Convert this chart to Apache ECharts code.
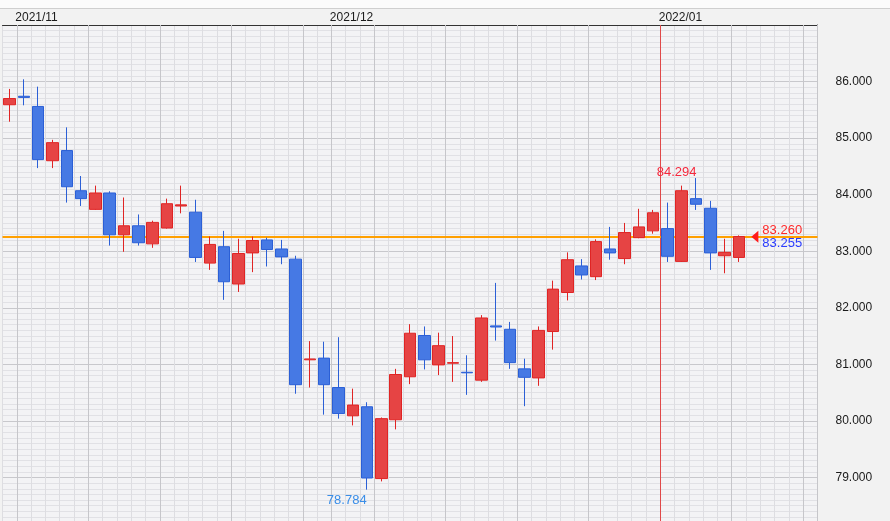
<!DOCTYPE html>
<html>
<head>
<meta charset="utf-8">
<script src="https://cdn.jsdelivr.net/npm/echarts@6/dist/echarts.min.js"></script>
<style>
  html, body { margin: 0; padding: 0; background: #f2f2f2; }
  #chart { width: 890px; height: 521px; }
</style>
</head>
<body>
<div id="chart"></div>
<script>
// trading days, then a few empty future slots on the right
const dates = [
  '2021/10/29',
  '2021/11/01', '2021/11/02', '2021/11/03', '2021/11/04', '2021/11/05',
  '2021/11/08', '2021/11/09', '2021/11/10', '2021/11/11', '2021/11/12',
  '2021/11/15', '2021/11/16', '2021/11/17', '2021/11/18', '2021/11/19',
  '2021/11/22', '2021/11/23', '2021/11/24', '2021/11/25', '2021/11/26',
  '2021/11/29', '2021/11/30', '2021/12/01', '2021/12/02', '2021/12/03',
  '2021/12/06', '2021/12/07', '2021/12/08', '2021/12/09', '2021/12/10',
  '2021/12/13', '2021/12/14', '2021/12/15', '2021/12/16', '2021/12/17',
  '2021/12/20', '2021/12/21', '2021/12/22', '2021/12/23', '2021/12/24',
  '2021/12/27', '2021/12/28', '2021/12/29', '2021/12/30', '2021/12/31',
  '2022/01/03', '2022/01/04', '2022/01/05', '2022/01/06', '2022/01/07',
  '2022/01/10',
  '2022/01/11', '2022/01/12', '2022/01/13', '2022/01/14', '2022/01/17'
]

const opens = [
  85.59,
  85.74, 85.56, 84.60, 84.78, 84.07,
  83.74, 84.03, 83.29, 83.45, 83.13,
  83.41, 83.80, 83.69, 82.79, 83.08,
  82.42, 82.97, 83.20, 83.04, 82.86,
  81.08, 81.11, 80.59, 80.09, 80.25,
  78.98, 80.02, 80.78, 81.51, 80.99,
  81.02, 80.86, 80.72, 81.68, 81.62,
  80.92, 80.76, 81.58, 82.27, 82.74,
  82.55, 83.04, 82.87, 83.24, 83.36,
  83.40, 82.82, 83.93, 83.76, 82.92,
  82.89
]
const closes = [
  85.70,
  85.72, 84.62, 84.92, 84.14, 83.93,
  84.03, 83.29, 83.45, 83.15, 83.51,
  83.84, 83.82, 82.89, 83.12, 82.46,
  82.96, 83.19, 83.03, 82.90, 80.64,
  81.095, 80.64, 80.13, 80.28, 78.99,
  80.04, 80.82, 81.55, 81.08, 81.33,
  81.03, 80.85, 81.82, 81.66, 81.03,
  80.77, 81.60, 82.33, 82.85, 82.58,
  83.17, 82.97, 83.33, 83.43, 83.68,
  82.91, 84.07, 83.83, 82.97, 82.98,
  83.26
]
const lows = [
  85.29,
  85.58, 84.47, 84.47, 83.86, 83.80,
  83.73, 83.10, 82.99, 83.10, 83.06,
  83.40, 83.67, 82.81, 82.67, 82.14,
  82.28, 82.63, 82.73, 82.77, 80.48,
  80.59, 80.11, 80.04, 79.92, 78.784,
  78.93, 79.85, 80.65, 80.91, 80.81,
  80.69, 80.46, 80.69, 81.42, 80.92,
  80.26, 80.62, 81.26, 82.13, 82.50,
  82.49, 82.85, 82.77, 83.23, 83.31,
  82.81, 82.81, 83.73, 82.67, 82.61,
  82.81
]
const highs = [
  85.87,
  86.04, 85.91, 84.97, 85.19, 84.33,
  84.16, 84.06, 83.95, 83.65, 83.54,
  83.93, 84.16, 83.91, 83.26, 83.36,
  83.22, 83.26, 83.24, 83.20, 82.92,
  81.41, 81.40, 81.48, 80.57, 80.33,
  80.06, 80.92, 81.71, 81.67, 81.56,
  81.50, 81.16, 81.87, 82.44, 81.75,
  81.10, 81.67, 82.48, 82.98, 82.86,
  83.21, 83.43, 83.50, 83.75, 83.73,
  83.86, 84.16, 84.294, 83.89, 83.22,
  83.28
]

// current quotes shown at the right end (ask / bid)
const quoteAsk = 83.260
const quoteBid = 83.255

const yTicks = [78, 79, 80, 81, 82, 83, 84, 85, 86, 87]

const FONT = "'Liberation Sans', Arial, sans-serif"

const ohlc = opens.map((o, i) => [o, closes[i], lows[i], highs[i]])

// lowest low, then the highest high reached after it
const loIdx = lows.indexOf(Math.min(...lows))
const hiIdx = loIdx + highs.slice(loIdx).indexOf(Math.max(...highs.slice(loIdx)))
const lastIdx = closes.length - 1

const monthStarts = dates
  .map((d, i) => i)
  .filter(i => i > 0 && dates[i].slice(0, 7) !== dates[i - 1].slice(0, 7))

const isMajor = i => {
  const day = new Date(dates[i].replace(/\//g, '-') + 'T00:00:00Z').getUTCDay()
  return day === 1 || monthStarts.includes(i)
}

const chart = echarts.init(document.getElementById('chart'))

const option = {
  animation: false,
  backgroundColor: '#f2f2f2',
  grid: {
    left: 2.5,
    top: 25,
    width: 815,
    height: 509,
    outerBoundsMode: 'none',
    containLabel: false,
    show: true,
    backgroundColor: '#f3f3f5',
    borderWidth: 0
  },
  xAxis: [
    {
      type: 'category',
      data: dates,
      position: 'top',
      boundaryGap: true,
      axisLine: { show: true, lineStyle: { color: '#333', width: 1 } },
      axisTick: { show: false },
      axisLabel: { show: false },
      splitLine: { show: true, interval: 0, lineStyle: { color: '#dddde1', width: 1 } }
    },
    {
      type: 'category',
      data: dates,
      position: 'top',
      boundaryGap: true,
      z: 1,
      axisLine: { show: false },
      axisTick: { show: false },
      axisLabel: { show: false },
      splitLine: { show: true, interval: (i) => isMajor(i), lineStyle: { color: '#c6c6ca', width: 1 } }
    }
  ],
  yAxis: {
    type: 'value',
    position: 'right',
    min: yTicks[0],
    max: yTicks[yTicks.length - 1],
    interval: 1,
    axisLine: { show: true, onZero: false, lineStyle: { color: '#333', width: 1 } },
    axisTick: { show: false },
    axisLabel: {
      margin: 18,
      color: '#1a1a1a',
      fontSize: 12,
      fontFamily: FONT,
      showMaxLabel: false,
      formatter: v => v.toFixed(3)
    },
    splitLine: { show: true, lineStyle: { color: '#c8c8cc', width: 1 } },
    minorTick: { show: false, splitNumber: 10 },
    minorSplitLine: { show: true, lineStyle: { color: '#e1e1e5', width: 1 } }
  },
  series: [
    {
      type: 'candlestick',
      data: ohlc,
      barWidth: 12,
      z: 3,
      itemStyle: {
        color: '#e64444',
        color0: '#4679e4',
        borderColor: '#e02424',
        borderColor0: '#2b5fd6',
        borderWidth: 1
      },
      markPoint: {
        silent: true,
        data: [
          {
            coord: [hiIdx, highs[hiIdx]],
            symbol: 'circle',
            symbolSize: 1,
            itemStyle: { color: 'transparent' },
            label: {
              show: true,
              position: [0, 0],
              align: 'right',
              verticalAlign: 'bottom',
              offset: [1, 1],
              formatter: highs[hiIdx].toFixed(3),
              color: '#f5283c',
              fontSize: 13,
              fontFamily: FONT
            }
          },
          {
            coord: [loIdx, lows[loIdx]],
            symbol: 'circle',
            symbolSize: 1,
            itemStyle: { color: 'transparent' },
            label: {
              show: true,
              position: [0, 0],
              align: 'right',
              verticalAlign: 'top',
              offset: [0, 5],
              formatter: lows[loIdx].toFixed(3),
              color: '#3a8ee8',
              fontSize: 13,
              fontFamily: FONT
            }
          },
          {
            coord: [lastIdx, (quoteAsk + quoteBid) / 2],
            symbol: 'triangle',
            symbolSize: [12, 7],
            symbolRotate: 90,
            symbolOffset: [16, 0],
            itemStyle: { color: '#ff1a1a' },
            label: {
              show: true,
              position: 'right',
              distance: 4,
              formatter: '{a|' + quoteAsk.toFixed(3) + '}\n{b|' + quoteBid.toFixed(3) + '}',
              rich: {
                a: { color: '#ff2a2a', fontSize: 13, lineHeight: 13, fontFamily: FONT },
                b: { color: '#2a3cff', fontSize: 13, lineHeight: 13, fontFamily: FONT }
              }
            }
          }
        ]
      }
    }
  ]
}

chart.setOption(option)

// month header labels, current-month marker and bid line, placed through the axes
const c0 = chart.convertToPixel({ xAxisIndex: 0 }, 0)
const band = chart.convertToPixel({ xAxisIndex: 0 }, 1) - c0
const boundaryX = i => chart.convertToPixel({ xAxisIndex: 0 }, i) - band / 2
const topY = chart.convertToPixel({ yAxisIndex: 0 }, yTicks[yTicks.length - 1])
const plotLeft = boundaryX(0)
const plotRight = boundaryX(dates.length)
const bidY = Math.round(chart.convertToPixel({ yAxisIndex: 0 }, quoteBid))

const graphics = [
  { type: 'rect', z: 0, shape: { x: 0, y: 0, width: 890, height: 8 }, style: { fill: '#fbfbfb' } },
  { type: 'line', z: 0, shape: { x1: 0, y1: 8.5, x2: 890, y2: 8.5 }, style: { stroke: '#cfcfcf', lineWidth: 1 } }
]
monthStarts.forEach(i => {
  graphics.push({
    type: 'text',
    z: 3,
    x: boundaryX(i) - 1.5,
    y: (8 + topY) / 2 + 1,
    style: {
      text: dates[i].slice(0, 7),
      font: '12px ' + FONT,
      fill: '#1a1a1a',
      align: 'left',
      verticalAlign: 'middle'
    }
  })
})
const curX = Math.round(boundaryX(monthStarts[monthStarts.length - 1])) + 0.5
graphics.push({
  type: 'line',
  z: 2,
  shape: { x1: curX, y1: topY, x2: curX, y2: 521 },
  style: { stroke: '#e04848', lineWidth: 1 }
})
// bid line drawn as a thin filled band so its colour stays solid
graphics.push({
  type: 'rect',
  z: 2,
  shape: { x: plotLeft, y: bidY - 1, width: plotRight - plotLeft, height: 2 },
  style: { fill: '#ffa000' }
})

chart.setOption({ graphic: graphics })
</script>
</body>
</html>
